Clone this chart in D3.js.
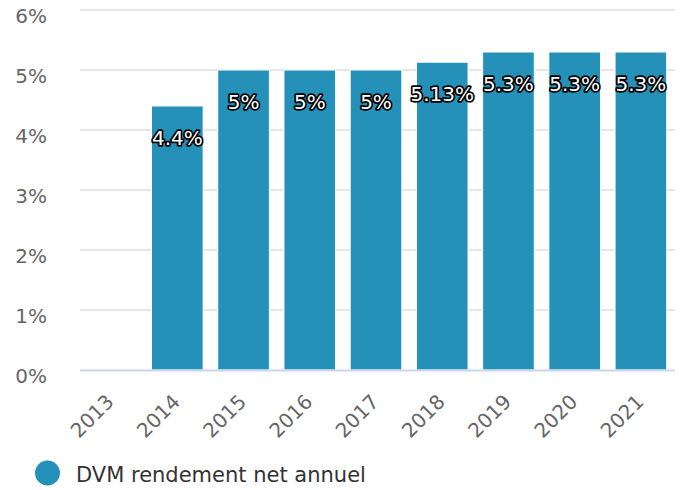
<!DOCTYPE html>
<html>
<head>
<meta charset="utf-8">
<script src="https://cdn.jsdelivr.net/npm/d3@7"></script>
<style>
    html, body { margin: 0; padding: 0; background: #fff; }
    svg { display: block; font-family: "DejaVu Sans", sans-serif; }
</style>
</head>
<body>
<svg id="chart" width="682" height="490"></svg>
<script>
    var years = ['2013', '2014', '2015', '2016', '2017', '2018', '2019', '2020', '2021'];
    var rendement = [null, 4.4, 5, 5, 5, 5.13, 5.3, 5.3, 5.3];
    var labels = ['', '4.4%', '5%', '5%', '5%', '5.13%', '5.3%', '5.3%', '5.3%'];
    var yTicks = [0, 1, 2, 3, 4, 5, 6];
    var seriesName = 'DVM rendement net annuel';

(function () {
    'use strict';

    var svg = d3.select('#chart'),
        left = 78,
        right = 674,
        plotTop = 10,
        bottom = 370,
        barColor = '#2591b9';

    var x = d3.scaleBand()
        .domain(years)
        .range([left, right])
        .paddingInner(0.22)
        .paddingOuter(0.11);

    var y = d3.scaleLinear()
        .domain([0, 6])
        .range([bottom, plotTop]);

    //grid lines
    svg.append('g')
        .selectAll('line')
        .data(yTicks.filter(function (d) { return d > 0; }))
        .enter().append('line')
        .attr('x1', left + 2)
        .attr('x2', right + 1)
        .attr('y1', function (d) { return y(d); })
        .attr('y2', function (d) { return y(d); })
        .attr('stroke', '#e6e6e6')
        .attr('stroke-width', 2);

    //y labels
    svg.append('g')
        .selectAll('text')
        .data(yTicks)
        .enter().append('text')
        .attr('x', 47)
        .attr('y', function (d) { return y(d) + 12.5; })
        .attr('text-anchor', 'end')
        .attr('fill', '#666666')
        .attr('font-size', 20)
        .text(function (d) { return d + '%'; });

    var points = years.map(function (yr, i) {
        return {year: yr, value: rendement[i], label: labels[i]};
    }).filter(function (d) { return d.value !== null; });

    //bars
    svg.append('g')
        .selectAll('rect')
        .data(points)
        .enter().append('rect')
        .attr('x', function (d) { return x(d.year); })
        .attr('y', function (d) { return y(d.value); })
        .attr('width', x.bandwidth())
        .attr('height', function (d) { return y(0) - y(d.value); })
        .attr('fill', barColor)
        .attr('stroke', '#ffffff')
        .attr('stroke-width', 1);

    //x axis line
    svg.append('line')
        .attr('x1', left + 2)
        .attr('x2', right + 1)
        .attr('y1', bottom + 0.5)
        .attr('y2', bottom + 0.5)
        .attr('stroke', '#ccd6eb')
        .attr('stroke-width', 2);

    //x labels
    svg.append('g')
        .selectAll('text')
        .data(years)
        .enter().append('text')
        .attr('transform', function (d) {
            return 'translate(' + (x(d) + x.bandwidth() / 2 + 4) + ',' + 403 + ') rotate(-45)';
        })
        .attr('text-anchor', 'end')
        .attr('fill', '#666666')
        .attr('font-size', 20)
        .text(function (d) { return d; });

    //data labels
    svg.append('g')
        .selectAll('text')
        .data(points)
        .enter().append('text')
        .attr('x', function (d) { return x(d.year) + x.bandwidth() / 2; })
        .attr('y', function (d) { return y(d.value) + 38.5; })
        .attr('text-anchor', 'middle')
        .attr('font-size', 20)
        .attr('fill', '#ffffff')
        .attr('stroke', '#000000')
        .attr('stroke-width', 3.5)
        .attr('stroke-linejoin', 'round')
        .attr('paint-order', 'stroke')
        .text(function (d) { return d.label; });

    //legend
    var legend = svg.append('g');
    legend.append('circle')
        .attr('cx', 47.5)
        .attr('cy', 473)
        .attr('r', 12.5)
        .attr('fill', barColor);
    legend.append('text')
        .attr('x', 76)
        .attr('y', 482)
        .attr('font-size', 21)
        .attr('fill', '#333333')
        .text(seriesName);
})();
</script>
</body>
</html>
